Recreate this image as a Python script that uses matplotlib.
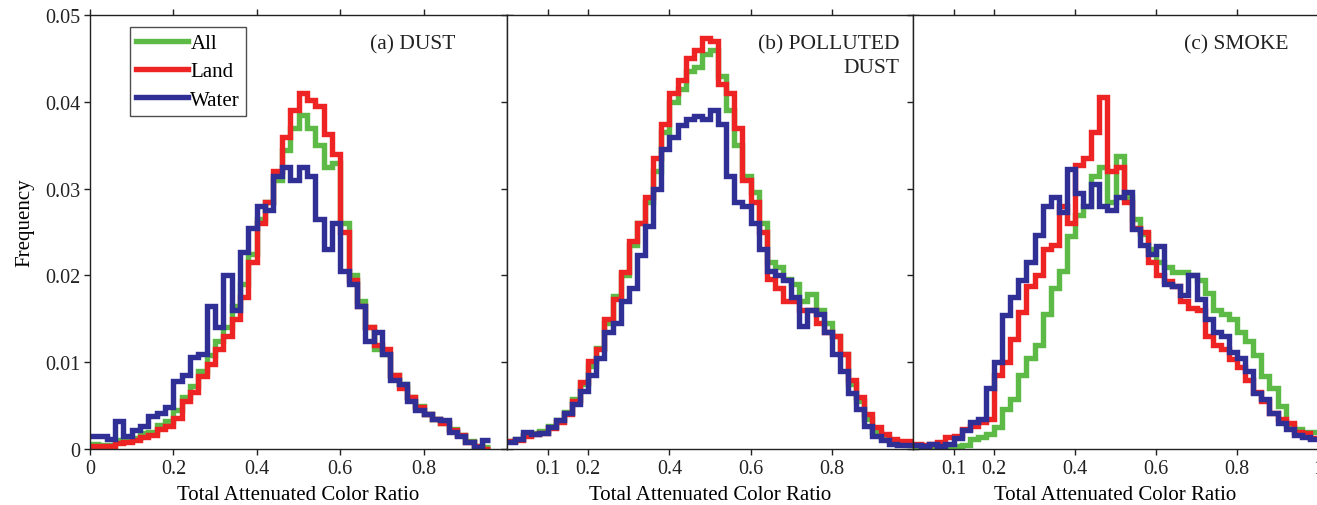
import numpy as np
import matplotlib
matplotlib.use("Agg")
import matplotlib.pyplot as plt
from matplotlib.lines import Line2D

plt.rcParams['font.family'] = ['Liberation Serif', 'DejaVu Serif']

# histogram frequencies (x 1e-3), bins of 0.02 in color ratio starting at 0
BIN_WIDTH = 0.02

dust_all = [0.6, 0.5, 0.5, 1.0, 1.0, 1.3, 1.8, 2.0, 2.8, 3.2,
            4.5, 6.0, 7.3, 9.0, 10.8, 12.5, 14.0, 16.5, 19.0, 22.5,
            26.5, 28.5, 31.0, 34.5, 37.0, 38.5, 37.0, 35.0, 32.5, 33.0,
            26.0, 20.0, 17.0, 14.0, 11.5, 11.0, 8.5, 7.5, 6.0, 5.0,
            4.0, 3.5, 3.0, 2.3, 1.6, 0.9, 0.4, 0.2]
dust_land = [0.3, 0.3, 0.4, 0.7, 0.8, 1.0, 1.4, 1.6, 2.3, 2.6,
             3.6, 5.5, 6.6, 8.4, 9.8, 11.5, 13.0, 15.0, 17.5, 21.5,
             26.0, 28.5, 32.0, 36.0, 39.0, 41.0, 40.2, 39.5, 36.3, 34.0,
             25.0, 19.5, 16.5, 14.0, 12.0, 11.5, 8.5, 7.0, 6.0, 4.8,
             4.0, 3.5, 3.0, 2.2, 1.6, 0.8, 0.3, 0.0]
dust_water = [1.5, 1.5, 1.2, 3.2, 1.5, 2.2, 2.6, 3.8, 4.2, 4.8,
              7.8, 8.5, 10.6, 11.0, 16.5, 14.0, 20.0, 16.0, 22.7, 25.5,
              28.0, 27.5, 31.5, 32.5, 31.0, 32.5, 31.5, 26.5, 23.0, 26.0,
              20.5, 19.0, 16.5, 12.5, 13.5, 11.0, 8.0, 7.5, 5.5, 4.5,
              4.0, 3.5, 3.3, 2.0, 1.5, 0.8, 0.2, 1.0]

pdust_all = [0.9, 1.1, 1.6, 1.9, 2.1, 2.6, 3.3, 4.3, 5.8, 7.5,
             9.6, 11.6, 14.5, 17.6, 20.0, 23.5, 26.0, 28.5, 32.0, 36.5,
             40.0, 41.5, 43.5, 44.0, 45.5, 46.0, 43.0, 39.0, 35.0, 31.5,
             29.6, 26.0, 21.5, 21.0, 19.6, 19.0, 17.0, 17.8, 16.0, 14.5,
             13.0, 11.0, 7.5, 5.5, 3.5, 2.0, 1.3, 0.9, 0.6, 0.5]
pdust_land = [0.9, 1.0, 1.5, 1.7, 1.9, 2.4, 3.1, 4.0, 5.5, 7.7,
              10.1, 11.5, 15.0, 17.3, 20.4, 24.0, 26.0, 29.0, 33.5, 37.5,
              41.0, 42.5, 45.0, 46.0, 47.3, 47.0, 42.0, 41.0, 37.0, 31.0,
              28.5, 25.0, 19.6, 18.6, 17.0, 17.0, 16.0, 16.0, 14.5, 13.5,
              13.0, 11.0, 8.0, 6.0, 4.0, 2.5, 1.7, 1.2, 0.9, 0.9]
pdust_water = [0.8, 1.1, 2.0, 1.7, 1.9, 2.5, 3.3, 4.2, 5.2, 6.7,
               8.5, 10.5, 13.5, 14.5, 17.0, 18.5, 22.3, 25.7, 30.0, 34.6,
               36.0, 37.3, 38.0, 38.4, 38.0, 39.0, 37.5, 31.5, 28.5, 28.0,
               26.0, 23.0, 20.5, 20.0, 19.5, 17.5, 14.2, 16.0, 15.5, 13.5,
               11.0, 9.0, 6.5, 4.6, 2.7, 1.5, 1.0, 0.6, 0.5, 0.5]

smoke_all = [0.2, 0.2, 0.2, 0.2, 0.2, 0.4, 0.5, 1.2, 1.4, 1.7,
             2.5, 4.6, 5.8, 8.5, 10.5, 12.0, 15.5, 18.5, 20.5, 24.5,
             27.0, 28.0, 31.5, 32.5, 28.5, 33.8, 29.0, 26.5, 24.8, 23.0,
             21.5, 21.0, 20.4, 20.4, 20.0, 19.5, 18.0, 16.0, 15.5, 15.0,
             13.5, 12.5, 10.8, 8.4, 7.0, 5.0, 2.8, 2.3, 2.0, 2.0]
smoke_land = [0.6, 0.5, 0.6, 0.8, 1.4, 1.5, 2.3, 2.6, 3.1, 3.4,
              8.5, 10.0, 12.7, 15.8, 18.8, 20.0, 23.0, 23.5, 28.0, 26.0,
              32.7, 33.5, 36.5, 40.5, 32.0, 32.5, 28.5, 25.5, 25.0, 21.5,
              20.0, 19.3, 18.8, 17.0, 16.3, 16.0, 13.0, 12.0, 11.5, 10.4,
              9.5, 8.0, 6.6, 5.5, 4.2, 3.5, 3.0, 2.0, 1.8, 1.3]
smoke_water = [0.5, 0.3, 0.6, 0.4, 0.6, 1.3, 2.2, 3.1, 3.5, 7.0,
               10.0, 15.4, 17.5, 19.5, 21.5, 24.6, 28.0, 29.0, 27.3, 32.3,
               29.5, 28.0, 30.5, 28.0, 27.5, 29.0, 29.6, 25.4, 23.5, 22.5,
               23.4, 19.0, 18.8, 17.7, 20.0, 17.3, 15.0, 13.5, 13.0, 11.2,
               10.5, 9.0, 6.5, 5.8, 4.2, 3.0, 2.3, 1.6, 1.4, 1.2]

series_labels = ["All", "Land", "Water"]
series_colors = ["#5dba47", "#ee2424", "#2f2f96"]

panels = [
    ("(a) DUST", [dust_all, dust_land, dust_water],
     [0, 0.2, 0.4, 0.6, 0.8], ["0", "0.2", "0.4", "0.6", "0.8"]),
    ("(b) POLLUTED\nDUST", [pdust_all, pdust_land, pdust_water],
     [0.1, 0.2, 0.4, 0.6, 0.8], ["0.1", "0.2", "0.4", "0.6", "0.8"]),
    ("(c) SMOKE", [smoke_all, smoke_land, smoke_water],
     [0.1, 0.2, 0.4, 0.6, 0.8, 1.0], ["0.1", "0.2", "0.4", "0.6", "0.8", "1"]),
]
# right edge of the panel title, in axes fraction
title_right = [0.877, 0.966, 0.926]

fig = plt.figure(figsize=(13.17, 5.06), dpi=100)
W, H = 1317.0, 506.0
# axes boxes in pixels: left, right
boxes = [(90, 507), (507, 913), (913, 1318)]
top_px, bot_px = 16, 450

axes = []
for (l, r) in boxes:
    ax = fig.add_axes([l / W, 1 - bot_px / H, (r - l) / W, (bot_px - top_px) / H])
    axes.append(ax)

for i, (ax, (title, data, xt, xtl)) in enumerate(zip(axes, panels)):
    for vals, col in zip(data, series_colors):
        vals = np.array(vals) * 1e-3
        edges = np.arange(len(vals) + 1) * BIN_WIDTH
        ax.stairs(vals, edges, baseline=None, color=col, linewidth=3.9)
    ax.set_xlim(0, 1)
    ax.set_ylim(0, 0.05)
    ax.set_xticks(xt)
    ax.set_xticklabels(xtl)
    ax.set_yticks([0, 0.01, 0.02, 0.03, 0.04, 0.05])
    if i == 0:
        ax.set_yticklabels(["0", "0.01", "0.02", "0.03", "0.04", "0.05"])
    else:
        ax.set_yticklabels([])
    ax.tick_params(direction='out', length=4, width=1, top=True, right=True,
                   labelsize=14.5, pad=3, colors='#222222')
    for s in ax.spines.values():
        s.set_linewidth(1.0)
        s.set_color('#222222')
    ax.set_xlabel("Total Attenuated Color Ratio", fontsize=15, labelpad=5)
    ax.text(title_right[i], 0.956, title, transform=ax.transAxes, ha='right',
            va='top', fontsize=15.5, linespacing=1.3, color='#222222')

handles = [Line2D([], [], color=c, lw=3.9) for c in series_colors]
leg = axes[0].legend(handles, series_labels, loc='upper left',
                     bbox_to_anchor=(0.096, 0.972), fontsize=15, frameon=True,
                     fancybox=False, edgecolor='#222222', handlelength=2.5,
                     handletextpad=0.1, labelspacing=0.42, borderpad=0.3,
                     borderaxespad=0)
leg.get_frame().set_linewidth(1.0)

fig.text(25 / W, 1 - 223 / H, "Frequency", rotation=90, ha='center', va='center',
         fontsize=15)

fig.savefig("out.png", dpi=100)
